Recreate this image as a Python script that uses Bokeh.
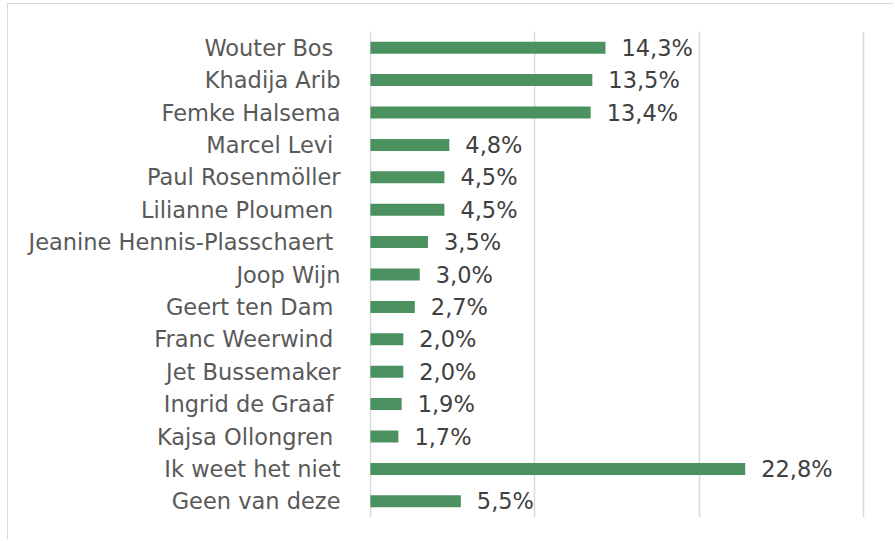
from bokeh.plotting import figure
from bokeh.models import FactorRange, ColumnDataSource, FixedTicker, LabelSet
from bokeh.core.properties import value
from bokeh.embed import file_html
from bokeh.resources import INLINE

names = ["Wouter Bos", "Khadija Arib", "Femke Halsema", "Marcel Levi", "Paul Rosenmöller",
         "Lilianne Ploumen", "Jeanine Hennis-Plasschaert", "Joop Wijn", "Geert ten Dam",
         "Franc Weerwind", "Jet Bussemaker", "Ingrid de Graaf", "Kajsa Ollongren",
         "Ik weet het niet", "Geen van deze"]
trailing = ["Wouter Bos", "Marcel Levi", "Lilianne Ploumen", "Jeanine Hennis-Plasschaert",
            "Geert ten Dam", "Franc Weerwind", "Ingrid de Graaf", "Kajsa Ollongren"]
values = [14.3, 13.5, 13.4, 4.8, 4.5, 4.5, 3.5, 3.0, 2.7, 2.0, 2.0, 1.9, 1.7, 22.8, 5.5]
grid_ticks = [0, 10, 20, 30]

factors = [n + "\u00a0" if n in trailing else n for n in names]
labels = [("%.1f%%" % v).replace(".", ",") for v in values]
src = ColumnDataSource(dict(name=factors, val=values, lab=labels))

p = figure(width=886, height=536, output_backend="svg", toolbar_location=None,
           y_range=FactorRange(*reversed(factors)), x_range=(-0.3, 30.3),
           min_border_left=357, min_border_right=26, min_border_top=27, min_border_bottom=23)
p.styles = {"margin-left": "7px", "margin-top": "3px",
            "border-left": "1px solid #d9d9d9", "border-top": "1px solid #d9d9d9"}
p.outline_line_color = None
p.background_fill_color = "white"
p.border_fill_color = "white"

p.hbar(y="name", right="val", left=0, height=0.37, source=src,
       fill_color="#4c9160", line_color=None)

labs = LabelSet(x="val", y="name", text="lab", source=src, x_offset=16,
                text_baseline="middle", text_align="left",
                text_font=value("DejaVu Sans"), text_font_size="22.5px", text_color="#404040")
p.add_layout(labs)

p.xaxis.visible = False
p.xgrid.ticker = FixedTicker(ticks=grid_ticks)
p.xgrid.grid_line_color = "#d9d9d9"
p.xgrid.grid_line_width = 1.5
p.ygrid.grid_line_color = None

ya = p.yaxis[0]
ya.axis_line_color = None
ya.major_tick_line_color = None
ya.minor_tick_line_color = None
ya.major_tick_out = 0
ya.major_tick_in = 0
ya.major_label_standoff = 25
ya.major_label_text_font = "DejaVu Sans"
ya.major_label_text_font_size = "22.5px"
ya.major_label_text_color = "#595959"

open("out.html", "w").write(file_html(p, INLINE))
